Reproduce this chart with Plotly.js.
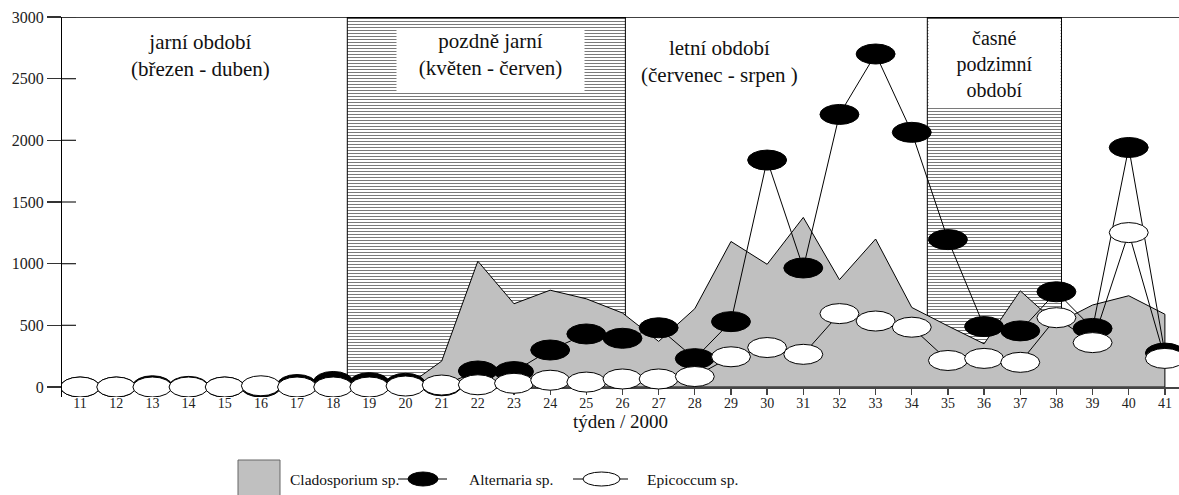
<!DOCTYPE html>
<html><head><meta charset="utf-8">
<script src="https://cdn.plot.ly/plotly-3.0.1.min.js"></script>
<style>html,body{margin:0;padding:0;background:#fff}#chart{width:1179px;height:495px}</style>
</head><body><div id="chart"></div>
<script>
// ---- data ----
const weeks = [11,12,13,14,15,16,17,18,19,20,21,22,23,24,25,26,27,28,29,30,31,32,33,34,35,36,37,38,39,40,41];
const cladosporium = [0,0,0,0,0,0,0,0,0,0,210,1020,675,785,715,600,370,635,1180,995,1375,870,1200,645,495,350,780,515,665,740,590];
const alternaria = [0,0,10,5,0,0,20,45,35,30,10,130,125,300,430,395,480,230,530,1840,965,2210,2700,2065,1195,490,455,772,475,1942,275];
const epicoccum = [0,0,0,0,0,10,0,0,0,8,16,18,30,55,40,65,65,85,245,320,265,595,535,485,215,232,200,562,360,1252,232];
const yTicks = [0,500,1000,1500,2000,2500,3000];
const hatchStart = [18.39, 34.43];
const hatchEnd = [26.08, 38.14];
const periodText = ['jarní období<br>(březen - duben)', 'pozdně jarní<br>(květen - červen)', 'letní období<br>(červenec - srpen )', 'časné<br>podzimní<br>období'];
const seriesNames = ['Cladosporium sp.', 'Alternaria sp.', 'Epicoccum sp.'];
const xTitle = 'týden / 2000';

// ---- layout helpers ----
const FONT = 'Liberation Serif';
const Y_MIN = -81, Y_MAX = 3000;
const ML = 62, MT = 17, PW = 1117, PH = 380;
const pxX = x => (x - ML) / PW;
const pxY = y => (MT + PH - y) / PH;

const traces = [];
hatchStart.forEach((s, i) => {
  const e = hatchEnd[i];
  traces.push({
    type: 'scatter', mode: 'lines', x: [s, s, e, e, s], y: [0, Y_MAX, Y_MAX, 0, 0],
    fill: 'toself', fillcolor: 'rgba(0,0,0,0)',
    fillpattern: {shape: '-', size: 3, solidity: 0.34, fgcolor: '#7a7a7a', bgcolor: '#ffffff'},
    line: {color: '#000', width: 1}, hoverinfo: 'skip', showlegend: false
  });
});
traces.push({
  type: 'scatter', mode: 'lines',
  x: weeks.concat([weeks[weeks.length - 1], weeks[0]]),
  y: cladosporium.concat([0, 0]),
  fill: 'toself', fillcolor: '#c0c0c0', line: {color: '#000', width: 1},
  hoverinfo: 'skip', showlegend: false, name: seriesNames[0]
});
traces.push({type: 'scatter', mode: 'lines', x: weeks, y: alternaria, line: {color: '#000', width: 1}, hoverinfo: 'skip', showlegend: false, name: seriesNames[1]});
traces.push({type: 'scatter', mode: 'lines', x: weeks, y: epicoccum, line: {color: '#000', width: 1}, hoverinfo: 'skip', showlegend: false, name: seriesNames[2]});

const shapes = [];
shapes.push({type: 'line', xref: 'paper', yref: 'y', x0: 0, x1: 1, y0: Y_MAX, y1: Y_MAX, line: {color: '#000', width: 1.3}});
// thicker top edge of the hatched period boxes
hatchStart.forEach((s, i) => shapes.push({type: 'line', xref: 'x', yref: 'y', x0: s, x1: hatchEnd[i], y0: Y_MAX, y1: Y_MAX, line: {color: '#000', width: 2.5}}));
// inner half of the y ticks (ticks cross the axis line)
yTicks.forEach(v => shapes.push({
  type: 'line', xref: 'paper', yref: 'y', xsizemode: 'pixel', xanchor: 0, x0: 0, x1: 14, y0: v, y1: v,
  line: {color: '#333', width: 1.3}
}));
function ellipses(vals, fill) {
  weeks.forEach((w, i) => shapes.push({
    type: 'circle', xref: 'x', yref: 'y', xsizemode: 'pixel', ysizemode: 'pixel',
    xanchor: w, yanchor: vals[i], x0: -19.5, x1: 19.5, y0: -10, y1: 10,
    fillcolor: fill, line: {color: '#000', width: 1}
  }));
}
ellipses(alternaria, '#000');
ellipses(epicoccum, '#fff');

// legend (drawn by hand)
const legY = 479;
shapes.push({type: 'rect', xref: 'paper', yref: 'paper', x0: pxX(238), x1: pxX(280), y0: pxY(497), y1: pxY(460), fillcolor: '#c0c0c0', line: {color: '#666', width: 1}});
shapes.push({type: 'line', xref: 'paper', yref: 'paper', x0: pxX(398), x1: pxX(447), y0: pxY(legY), y1: pxY(legY), line: {color: '#000', width: 1}});
shapes.push({type: 'circle', xref: 'paper', yref: 'paper', x0: pxX(408), x1: pxX(438), y0: pxY(486), y1: pxY(472), fillcolor: '#000', line: {color: '#000', width: 1}});
shapes.push({type: 'line', xref: 'paper', yref: 'paper', x0: pxX(573), x1: pxX(628), y0: pxY(legY), y1: pxY(legY), line: {color: '#000', width: 1}});
shapes.push({type: 'circle', xref: 'paper', yref: 'paper', x0: pxX(583), x1: pxX(620), y0: pxY(486), y1: pxY(472), fillcolor: '#fff', line: {color: '#000', width: 1}});

const periodFont = {family: FONT, size: 21, color: '#111'};
const autumnFont = {family: FONT, size: 20, color: '#111'};
const legFont = {family: FONT, size: 15.5, color: '#111'};
const annotations = [
  {x: 14.32, y: 2690, xref: 'x', yref: 'y', text: periodText[0], showarrow: false, font: periodFont},
  {x: 22.35, y: 2651, xref: 'x', yref: 'y', text: periodText[1], showarrow: false, bgcolor: '#fff', width: 187, height: 62, borderpad: 0, valign: 'top', font: periodFont},
  {x: 28.68, y: 2640, xref: 'x', yref: 'y', text: periodText[2], showarrow: false, font: periodFont},
  {x: 36.285, y: 2623, xref: 'x', yref: 'y', text: periodText[3], showarrow: false, bgcolor: '#fff', width: 131, height: 87, borderpad: 0, font: autumnFont},
  {x: pxX(288), y: pxY(legY), xref: 'paper', yref: 'paper', xanchor: 'left', yanchor: 'middle', text: seriesNames[0], showarrow: false, font: legFont},
  {x: pxX(467), y: pxY(legY), xref: 'paper', yref: 'paper', xanchor: 'left', yanchor: 'middle', text: seriesNames[1], showarrow: false, font: legFont},
  {x: pxX(645), y: pxY(legY), xref: 'paper', yref: 'paper', xanchor: 'left', yanchor: 'middle', text: seriesNames[2], showarrow: false, font: legFont}
];

const layout = {
  width: 1179, height: 495,
  margin: {l: ML, r: 0, t: MT, b: 495 - MT - PH},
  paper_bgcolor: '#fff', plot_bgcolor: '#fff',
  showlegend: false,
  xaxis: {
    range: [10.5, 41.39], tickvals: weeks, ticks: 'outside', ticklen: 6, tickwidth: 1.3, tickcolor: '#444',
    showline: true, linecolor: '#444', linewidth: 1.5, showgrid: false, zeroline: false,
    anchor: 'free', position: (0 - Y_MIN) / (Y_MAX - Y_MIN), fixedrange: true,
    ticklabelstandoff: -3,
    tickfont: {family: FONT, size: 14, color: '#222'},
    title: {text: xTitle, font: {family: FONT, size: 19, color: '#111'}, standoff: 0}
  },
  yaxis: {
    range: [Y_MIN, Y_MAX], tickvals: yTicks, showgrid: false, zeroline: false, fixedrange: true,
    ticks: 'outside', ticklen: 14, tickwidth: 1.3, tickcolor: '#333',
    showline: true, linecolor: '#000', linewidth: 1, tickfont: {family: FONT, size: 16, color: '#222'}
  },
  shapes: shapes,
  annotations: annotations
};

Plotly.newPlot('chart', traces, layout, {displayModeBar: false, staticPlot: true});
</script>
</body></html>
